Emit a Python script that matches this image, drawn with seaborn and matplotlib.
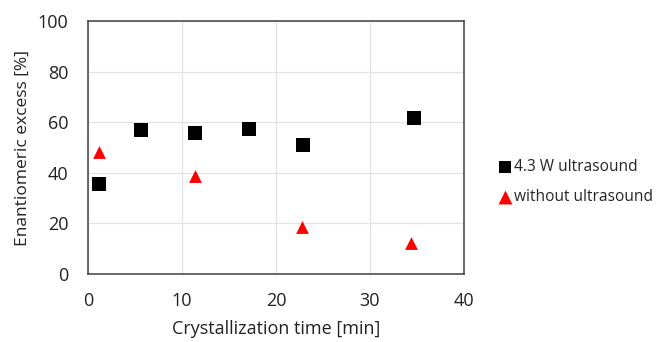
import matplotlib.pyplot as plt
import seaborn as sns

# data
time_us = [1.2, 5.6, 11.4, 17.1, 22.9, 34.7]
ee_us = [35.7, 57.0, 55.8, 57.3, 51.0, 61.5]
time_no = [1.2, 11.35, 22.8, 34.4]
ee_no = [48.2, 38.6, 18.4, 12.2]
labels = ['4.3 W ultrasound', 'without ultrasound']

sns.set_style('white')
plt.rcParams['font.family'] = ['Open Sans', 'DejaVu Sans']

fig, ax = plt.subplots(figsize=(6.57, 3.42), dpi=100)
fig.subplots_adjust(left=88/657, right=464/657, top=1-21/342, bottom=1-274/342)

sns.scatterplot(x=time_us, y=ee_us, marker='s', color='black', s=105,
                linewidth=0, ax=ax, zorder=3, label=labels[0])
sns.scatterplot(x=time_no, y=ee_no, marker='^', color='#ff0000', s=85,
                linewidth=0, ax=ax, zorder=3, label=labels[1])

ax.set_xlim(0, 40)
ax.set_ylim(0, 100)
ax.set_xticks(range(0, 41, 10))
ax.set_yticks(range(0, 101, 20))
ax.grid(True, color='#e3e3e3', linewidth=0.9)
ax.set_axisbelow(True)
for sp in ax.spines.values():
    sp.set_color('#404040')
    sp.set_linewidth(1.1)
ax.tick_params(direction='in', length=4, width=1, color='#404040',
               labelsize=13, labelcolor='#222222')
ax.tick_params(axis='y', pad=14)
ax.tick_params(axis='x', pad=13)
ax.set_xlabel('Crystallization time [min]', fontsize=13, color='#222222', labelpad=7)
ax.set_ylabel('Enantiomeric excess [%]', fontsize=12.5, color='#222222', labelpad=5)

leg = ax.legend(loc='center left', bbox_to_anchor=(491/657, 0.469), bbox_transform=fig.transFigure,
                frameon=False, handlelength=1.0, handletextpad=0.1, labelspacing=0.9,
                fontsize=11.2, borderaxespad=0)
leg.legend_handles[0].set_sizes([70])
leg.legend_handles[1].set_sizes([100])

fig.savefig('out.png', dpi=100)
